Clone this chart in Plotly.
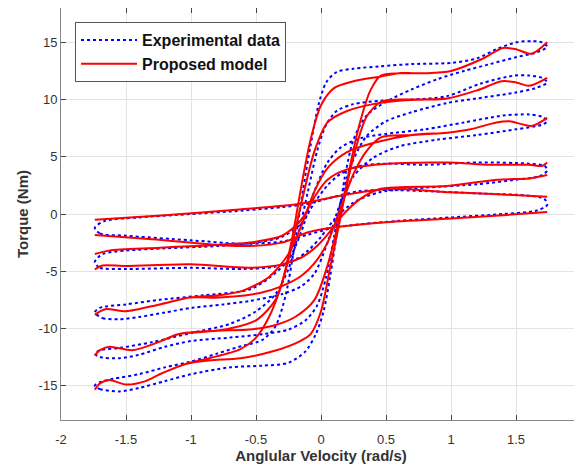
import plotly.graph_objects as go

# ---------------- Experimental data (blue dotted) ----------------
# Loop A (largest)
expA_x = [-1.74, -1.70, -1.55, -1.40, -1.20, -1.00, -0.70, -0.45, -0.25, -0.12, -0.04, 0.02, 0.07, 0.12, 0.18, 0.25, 0.35, 0.50, 0.70, 0.90, 1.10, 1.30, 1.50, 1.65, 1.74,
          1.70, 1.62, 1.50, 1.35, 1.20, 1.00, 0.70, 0.45, 0.25, 0.12, 0.04, -0.02, -0.08, -0.14, -0.20, -0.27, -0.35, -0.45, -0.60, -0.80, -1.00, -1.20, -1.40, -1.60, -1.70, -1.74]
expA_y = [-15.0, -15.3, -15.5, -15.2, -14.6, -14.0, -13.4, -13.25, -13.0, -12.0, -10.5, -8.5, -5.5, -1.8, 3.0, 6.5, 8.6, 9.8, 10.9, 11.8, 12.5, 13.1, 13.7, 14.1, 14.6,
          15.0, 15.1, 15.0, 14.4, 13.6, 13.2, 13.1, 12.9, 12.7, 12.4, 11.5, 9.5, 6.0, 2.0, -2.5, -7.0, -9.8, -11.0, -11.5, -12.2, -12.9, -13.4, -14.0, -14.4, -14.7, -15.0]
# Loop B
expB_x = [-1.74, -1.70, -1.55, -1.40, -1.20, -1.00, -0.70, -0.45, -0.25, -0.12, -0.03, 0.04, 0.10, 0.16, 0.24, 0.35, 0.50, 0.70, 0.97, 1.20, 1.49, 1.65, 1.74,
          1.70, 1.60, 1.49, 1.23, 0.97, 0.70, 0.46, 0.25, 0.12, 0.04, -0.03, -0.10, -0.17, -0.25, -0.35, -0.50, -0.70, -1.00, -1.30, -1.55, -1.70, -1.74]
expB_y = [-12.2, -12.5, -12.6, -12.3, -11.6, -11.1, -10.8, -10.5, -10.1, -9.3, -8.0, -5.5, -2.0, 1.5, 4.5, 6.8, 8.1, 8.9, 9.7, 10.1, 10.6, 11.0, 11.5,
          11.9, 12.1, 12.1, 11.4, 10.3, 10.0, 9.9, 9.6, 9.0, 7.8, 5.5, 2.0, -1.5, -4.8, -7.0, -8.5, -9.6, -10.4, -11.2, -11.7, -11.9, -12.2]
# Loop C
expC_x = [-1.74, -1.68, -1.55, -1.40, -1.20, -0.99, -0.75, -0.55, -0.30, -0.15, -0.05, 0.05, 0.15, 0.25, 0.40, 0.60, 0.90, 1.20, 1.50, 1.70, 1.74,
          1.70, 1.60, 1.40, 1.10, 0.80, 0.50, 0.30, 0.15, 0.05, -0.05, -0.15, -0.25, -0.40, -0.55, -0.90, -1.24, -1.50, -1.70, -1.74]
expC_y = [-8.6, -9.1, -9.2, -9.0, -8.6, -8.2, -7.9, -7.6, -7.0, -6.3, -5.2, -2.5, 1.0, 3.3, 4.9, 5.9, 6.5, 6.9, 7.4, 7.8, 8.1,
          8.5, 8.7, 8.6, 8.0, 7.4, 7.0, 6.6, 5.8, 4.5, 2.0, -1.5, -4.0, -5.6, -6.6, -7.1, -7.5, -7.9, -8.2, -8.6]
# Loop D
expD_x = [-1.74, -1.70, -1.50, -1.00, -0.60, -0.35, -0.20, -0.10, 0.00, 0.10, 0.25, 0.45, 0.80, 1.20, 1.50, 1.68, 1.74,
          1.72, 1.60, 1.20, 0.80, 0.50, 0.30, 0.15, 0.05, -0.05, -0.15, -0.30, -0.50, -0.80, -1.20, -1.50, -1.68, -1.74]
expD_y = [-4.2, -4.7, -4.8, -4.7, -4.8, -4.6, -4.0, -3.2, -2.0, -0.5, 1.0, 1.9, 2.3, 2.6, 3.0, 3.3, 3.8,
          4.2, 4.4, 4.5, 4.3, 4.4, 4.2, 3.5, 2.5, 1.0, -0.8, -2.0, -2.5, -2.8, -3.0, -3.2, -3.5, -4.2]
# Loop E (smallest)
expE_x = [-1.74, -1.70, -1.50, -1.00, -0.60, -0.30, -0.10, 0.10, 0.30, 0.60, 1.00, 1.40, 1.66, 1.74,
          1.72, 1.60, 1.20, 0.80, 0.50, 0.30, 0.10, -0.10, -0.30, -0.60, -1.00, -1.40, -1.66, -1.74]
expE_y = [-1.2, -1.7, -1.9, -2.3, -2.6, -2.4, -1.8, -1.2, -0.9, -0.6, -0.3, 0.0, 0.3, 0.8,
          1.3, 1.6, 1.8, 2.0, 2.1, 2.0, 1.5, 0.9, 0.6, 0.3, 0.0, -0.3, -0.6, -1.2]

# ---------------- Proposed model (red solid) ----------------
modA_x = [-1.74, -1.70, -1.63, -1.50, -1.35, -1.24, -1.04, -0.86, -0.62, -0.37, -0.16, -0.08, 0.00, 0.07, 0.15, 0.22, 0.30, 0.38, 0.46, 0.60, 0.80, 1.00, 1.23, 1.40, 1.50, 1.62, 1.74,
          1.62, 1.50, 1.40, 1.23, 1.00, 0.80, 0.60, 0.45, 0.25, 0.10, 0.00, -0.08, -0.15, -0.22, -0.30, -0.40, -0.50, -0.62, -0.86, -1.04, -1.24, -1.35, -1.50, -1.63, -1.70, -1.74]
modA_y = [-15.35, -14.8, -14.5, -14.9, -14.6, -14.0, -13.1, -12.8, -12.6, -12.0, -11.1, -10.5, -8.5, -4.7, -0.3, 4.0, 8.0, 10.8, 12.1, 12.3, 12.3, 12.5, 13.5, 14.5, 14.4, 14.0, 15.0,
          14.0, 14.4, 14.5, 13.5, 12.5, 12.3, 12.3, 12.0, 11.6, 11.0, 9.5, 6.5, 2.5, -2.0, -6.0, -9.0, -10.8, -11.8, -12.6, -13.1, -14.0, -14.6, -14.9, -14.5, -14.8, -15.35]
modB_x = [-1.74, -1.70, -1.63, -1.45, -1.25, -1.10, -0.80, -0.55, -0.35, -0.20, -0.05, 0.05, 0.15, 0.25, 0.35, 0.46, 0.60, 0.80, 0.97, 1.20, 1.39, 1.50, 1.60, 1.74,
          1.60, 1.50, 1.39, 1.20, 0.97, 0.80, 0.60, 0.40, 0.20, 0.05, -0.05, -0.15, -0.25, -0.35, -0.50, -0.70, -0.90, -1.10, -1.25, -1.45, -1.63, -1.70, -1.74]
modB_y = [-12.35, -11.9, -11.6, -11.9, -11.2, -10.5, -10.2, -10.1, -9.7, -9.0, -7.5, -4.5, 0.0, 5.0, 8.5, 9.8, 10.0, 10.0, 10.1, 10.8, 11.6, 11.5, 11.2, 11.9,
          11.2, 11.5, 11.6, 10.8, 10.1, 10.0, 9.9, 9.6, 9.0, 8.0, 5.5, 1.0, -4.0, -7.5, -9.3, -10.0, -10.3, -10.5, -11.2, -11.9, -11.6, -11.9, -12.35]
modC_x = [-1.74, -1.70, -1.65, -1.50, -1.24, -1.01, -0.78, -0.47, -0.30, -0.15, -0.05, 0.05, 0.15, 0.25, 0.35, 0.46, 0.70, 0.97, 1.15, 1.35, 1.45, 1.62, 1.74,
          1.62, 1.45, 1.35, 1.15, 0.97, 0.70, 0.40, 0.20, 0.05, -0.05, -0.15, -0.25, -0.40, -0.60, -0.78, -1.01, -1.24, -1.50, -1.65, -1.70, -1.74]
modC_y = [-8.8, -8.5, -8.3, -8.5, -7.9, -7.3, -7.3, -6.9, -6.3, -5.4, -4.3, -2.5, 0.5, 3.5, 5.5, 6.7, 6.9, 7.1, 7.4, 8.0, 8.1, 7.7, 8.4,
          7.7, 8.1, 8.0, 7.4, 7.1, 6.9, 6.2, 5.4, 4.0, 2.0, -1.0, -3.5, -5.5, -6.7, -7.1, -7.3, -7.9, -8.5, -8.3, -8.5, -8.8]
modD_x = [-1.74, -1.68, -1.50, -1.00, -0.55, -0.30, -0.15, -0.05, 0.05, 0.15, 0.30, 0.46, 0.97, 1.36, 1.60, 1.74]
modD_y = [-4.85, -4.5, -4.55, -4.4, -4.7, -4.4, -3.8, -3.0, -1.8, -0.3, 1.3, 2.2, 2.45, 3.0, 3.1, 3.4]
modD2_x = [-1.74, -1.63, -1.24, -0.55, -0.30, -0.15, -0.05, 0.05, 0.20, 0.46, 0.97, 1.30, 1.60, 1.70, 1.74]
modD2_y = [-3.5, -3.2, -2.95, -2.5, -1.9, -0.5, 1.5, 3.0, 3.9, 4.35, 4.5, 4.3, 4.3, 4.2, 4.5]
modE_x = [-1.74, -1.20, -0.63, -0.16, 0.20, 0.53, 1.00, 1.40, 1.74]
modE_y = [-0.5, -0.1, 0.4, 0.9, 1.7, 2.2, 1.9, 1.7, 1.5]
modE2_x = [-1.74, -1.30, -0.63, -0.30, -0.10, 0.15, 0.45, 1.00, 1.40, 1.74]
modE2_y = [-1.84, -2.2, -2.8, -2.5, -1.6, -1.1, -0.76, -0.4, -0.1, 0.17]

x_ticks = [-2, -1.5, -1, -0.5, 0, 0.5, 1, 1.5, 2]
y_ticks = [-15, -10, -5, 0, 5, 10, 15]

exp_loops = [(expA_x, expA_y), (expB_x, expB_y), (expC_x, expC_y), (expD_x, expD_y), (expE_x, expE_y)]
mod_curves = [(modA_x, modA_y), (modB_x, modB_y), (modC_x, modC_y), (modD_x, modD_y),
              (modD2_x, modD2_y), (modE_x, modE_y), (modE2_x, modE2_y)]

fig = go.Figure()
for i, (xs, ys) in enumerate(exp_loops):
    fig.add_trace(go.Scatter(x=xs, y=ys, mode="lines", name="<b>Experimental data</b>",
                             legendgroup="exp", showlegend=(i == 0),
                             line=dict(color="#0000ff", width=2, dash="dot", shape="spline", smoothing=0.8)))
for i, (xs, ys) in enumerate(mod_curves):
    fig.add_trace(go.Scatter(x=xs, y=ys, mode="lines", name="<b>Proposed model</b>",
                             legendgroup="mod", showlegend=(i == 0),
                             line=dict(color="#ff0000", width=2, shape="spline", smoothing=0.8)))

axis_common = dict(showgrid=True, gridcolor="#e3e3e3", gridwidth=1, zeroline=False,
                   showline=True, linecolor="#888888", linewidth=1, mirror="ticks",
                   ticks="inside", ticklen=5, tickcolor="#444444", automargin=False,
                   tickfont=dict(family="Liberation Sans, Arial, sans-serif", size=13, color="#333333"))

# The page body adds an 8px offset, so the figure is sized to the window minus that offset.
fig.update_layout(
    width=574, height=461,
    margin=dict(l=53, r=1, t=0, b=49),
    paper_bgcolor="white", plot_bgcolor="white",
    font=dict(family="Liberation Sans, Arial, sans-serif"),
    xaxis=dict(range=[-2, 2], tickvals=x_ticks, ticktext=[str(v) for v in x_ticks],
               ticklabelstandoff=7,
               title=dict(text="<b>Anglular Velocity (rad/s)</b>", font=dict(size=15, color="#333333"), standoff=3),
               **axis_common),
    yaxis=dict(range=[-18, 18], tickvals=y_ticks, ticktext=[str(v) for v in y_ticks],
               title=dict(text="<b>Torque (Nm)</b>", font=dict(size=15, color="#333333"), standoff=6),
               **axis_common),
    legend=dict(x=0.027, y=0.966, xanchor="left", yanchor="top",
                bgcolor="white", bordercolor="#555555", borderwidth=1,
                font=dict(size=16, color="#111111", family="Liberation Sans, Arial, sans-serif"),
                tracegroupgap=0, itemwidth=56),
)
fig.write_html("out.html")
